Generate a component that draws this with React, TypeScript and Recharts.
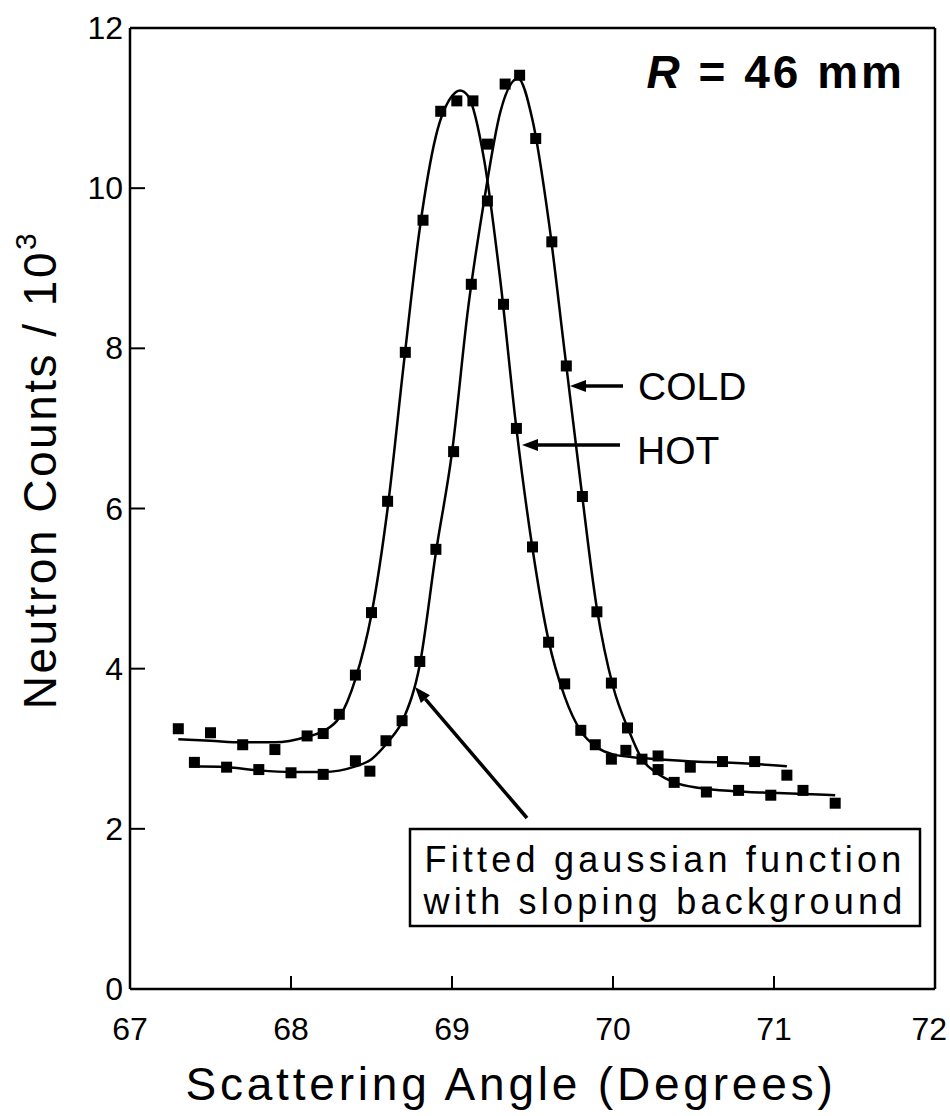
import { ComposedChart, Line, Scatter, XAxis, YAxis } from "recharts";

const FONT = "'Liberation Sans', Arial, Helvetica, sans-serif";

const xTicks = [67, 68, 69, 70, 71, 72];
const yTicks = [0, 2, 4, 6, 8, 10, 12];

// HOT run, measured points (left peak)
const hotAngle = [
  67.3, 67.5, 67.7, 67.9, 68.1, 68.2, 68.3, 68.4, 68.5, 68.6, 68.71, 68.82, 68.93, 69.03, 69.13,
  69.22, 69.32, 69.4, 69.5, 69.6, 69.7, 69.8, 69.89, 69.99, 70.08, 70.28, 70.48, 70.68, 70.88, 71.08,
];
const hotCounts = [
  3.25, 3.2, 3.05, 2.99, 3.16, 3.19, 3.43, 3.92, 4.7, 6.09, 7.95, 9.6, 10.96, 11.09, 11.09,
  10.55, 8.55, 7.0, 5.52, 4.33, 3.81, 3.23, 3.05, 2.87, 2.98, 2.91, 2.77, 2.84, 2.84, 2.67,
];

// COLD run, measured points (right peak)
const coldAngle = [
  67.4, 67.6, 67.8, 68.0, 68.2, 68.4, 68.49, 68.59, 68.69, 68.8, 68.9, 69.01, 69.12, 69.22, 69.33,
  69.42, 69.52, 69.62, 69.71, 69.81, 69.9, 69.99, 70.09, 70.18, 70.28, 70.38, 70.58, 70.78, 70.98,
  71.18, 71.38,
];
const coldCounts = [
  2.83, 2.77, 2.74, 2.7, 2.68, 2.85, 2.72, 3.1, 3.35, 4.09, 5.49, 6.71, 8.8, 9.84, 11.3,
  11.41, 10.62, 9.33, 7.78, 6.15, 4.71, 3.82, 3.26, 2.87, 2.74, 2.58, 2.46, 2.48, 2.42,
  2.48, 2.32,
];

// fitted gaussian + sloping background
const hotFitAngle = [
  67.3, 67.5, 67.7, 67.9, 68.1, 68.2, 68.3, 68.4, 68.5, 68.6, 68.7, 68.8, 68.9, 69.0, 69.05,
  69.1, 69.2, 69.3, 69.4, 69.5, 69.6, 69.7, 69.8, 69.9, 70.0, 70.2, 70.5, 70.8, 71.08,
];
const hotFitCounts = [
  3.12, 3.1, 3.08, 3.08, 3.15, 3.22, 3.39, 3.87, 4.68, 6.0, 7.8, 9.5, 10.65, 11.15, 11.22,
  11.15, 10.35, 8.85, 7.0, 5.5, 4.35, 3.65, 3.22, 3.02, 2.93, 2.88, 2.84, 2.82, 2.78,
];
const coldFitAngle = [
  67.37, 67.6, 67.8, 68.0, 68.2, 68.4, 68.5, 68.6, 68.7, 68.8, 68.9, 69.0, 69.1, 69.2, 69.3,
  69.41, 69.5, 69.6, 69.7, 69.8, 69.9, 70.0, 70.1, 70.18, 70.27, 70.38, 70.54, 70.75, 70.98, 71.38,
];
const coldFitCounts = [
  2.78, 2.77, 2.73, 2.71, 2.71, 2.78, 2.87, 3.08, 3.38, 4.05, 5.45, 6.7, 8.5, 9.85, 10.95,
  11.37, 10.85, 9.6, 7.95, 6.3, 4.75, 3.78, 3.22, 2.87, 2.7, 2.58, 2.51, 2.47, 2.45, 2.42,
];

const toRows = (xs: number[], ys: number[]) => xs.map((x, i) => ({ angle: x, counts: ys[i] }));

const hotPts = toRows(hotAngle, hotCounts);
const coldPts = toRows(coldAngle, coldCounts);
const hotFit = toRows(hotFitAngle, hotFitCounts);
const coldFit = toRows(coldFitAngle, coldFitCounts);

const Square = (p: any) => (
  <rect x={p.cx - 5.5} y={p.cy - 5.5} width={11} height={11} fill="#000" />
);

const YTick = (p: any) => {
  const v = p.payload.value;
  return (
    <g>
      {v > 0 && v < 12 && (
        <line x1={p.x + 8} x2={p.x + 22} y1={p.y} y2={p.y} stroke="#000" strokeWidth={2} />
      )}
      <text x={p.x} y={p.y} textAnchor="end" dominantBaseline="central" fontSize={32} fontFamily={FONT} fill="#000">
        {v}
      </text>
    </g>
  );
};

const XTick = (p: any) => {
  const v = p.payload.value;
  // last label sits at the page edge, keep it inside
  const last = v === 72;
  return (
    <g>
      {v > 67 && v < 72 && (
        <line x1={p.x} x2={p.x} y1={p.y - 28} y2={p.y - 41} stroke="#000" strokeWidth={2} />
      )}
      <text
        x={last ? p.x + 12 : p.x}
        y={p.y}
        dy="0.71em"
        textAnchor={last ? "end" : "middle"}
        fontSize={32}
        fontFamily={FONT}
        fill="#000"
      >
        {v}
      </text>
    </g>
  );
};

// arrow with filled head at (x2, y2)
const Arrow = ({ x1, y1, x2, y2 }: { x1: number; y1: number; x2: number; y2: number }) => {
  const dx = x2 - x1;
  const dy = y2 - y1;
  const len = Math.sqrt(dx * dx + dy * dy);
  const ux = dx / len;
  const uy = dy / len;
  const bx = x2 - ux * 16;
  const by = y2 - uy * 16;
  const head = `${x2},${y2} ${bx - uy * 6},${by + ux * 6} ${bx + uy * 6},${by - ux * 6}`;
  return (
    <g>
      <line x1={x1} y1={y1} x2={bx} y2={by} stroke="#000" strokeWidth={3.5} />
      <polygon points={head} fill="#000" />
    </g>
  );
};

export default function App() {
  return (
    <div style={{ position: "absolute", left: 0, top: 0, width: 950, height: 1116, background: "#fff" }}>
      <ComposedChart width={950} height={1116} margin={{ top: 28, right: 15, bottom: 67, left: 70 }}>
        <XAxis
          dataKey="angle"
          type="number"
          domain={[67, 72]}
          ticks={xTicks}
          tickSize={0}
          tickMargin={28}
          height={60}
          axisLine={{ stroke: "#000", strokeWidth: 2.5 }}
          tick={<XTick />}
          allowDataOverflow
        />
        <YAxis
          type="number"
          domain={[0, 12]}
          ticks={yTicks}
          tickSize={0}
          tickMargin={7}
          width={60}
          axisLine={{ stroke: "#000", strokeWidth: 2.5 }}
          tick={<YTick />}
          allowDataOverflow
        />
        <Line data={hotFit} dataKey="counts" type="monotone" stroke="#000" strokeWidth={2.5} dot={false} isAnimationActive={false} />
        <Line data={coldFit} dataKey="counts" type="monotone" stroke="#000" strokeWidth={2.5} dot={false} isAnimationActive={false} />
        <Scatter data={hotPts} dataKey="counts" shape={Square} isAnimationActive={false} />
        <Scatter data={coldPts} dataKey="counts" shape={Square} isAnimationActive={false} />
      </ComposedChart>

      <svg width={950} height={1116} style={{ position: "absolute", left: 0, top: 0, pointerEvents: "none" }}>
        {/* frame top and right */}
        <line x1={130} y1={28} x2={935} y2={28} stroke="#000" strokeWidth={2.5} />
        <line x1={935} y1={28} x2={935} y2={989} stroke="#000" strokeWidth={2.5} />

        <text x={905} y={88} textAnchor="end" fontSize={46} fontWeight="bold" fontFamily={FONT} letterSpacing={3}>
          <tspan fontStyle="italic">R</tspan> = 46 mm
        </text>

        <Arrow x1={623} y1={386} x2={570} y2={386} />
        <text x={638} y={386} dominantBaseline="central" fontSize={39} fontFamily={FONT}>COLD</text>
        <Arrow x1={620} y1={445} x2={522} y2={445} />
        <text x={637} y={450} dominantBaseline="central" fontSize={39} fontFamily={FONT}>HOT</text>

        <Arrow x1={527} y1={818} x2={415} y2={687} />
        <rect x={410} y={829} width={510} height={97} fill="#fff" stroke="#000" strokeWidth={2.5} />
        <text x={665} y={872} textAnchor="middle" fontSize={36} fontFamily={FONT} letterSpacing={4.2}>
          Fitted gaussian function
        </text>
        <text x={665} y={914} textAnchor="middle" fontSize={36} fontFamily={FONT} letterSpacing={4.2}>
          with sloping background
        </text>

        <text x={511} y={1100} textAnchor="middle" fontSize={46} fontFamily={FONT} letterSpacing={3.8}>
          Scattering Angle (Degrees)
        </text>
        <text transform="translate(56,470) rotate(-90)" textAnchor="middle" fontSize={46} fontFamily={FONT} letterSpacing={2.5}>
          Neutron Counts / 10<tspan fontSize={30} dy={-20}>3</tspan>
        </text>
      </svg>
    </div>
  );
}
